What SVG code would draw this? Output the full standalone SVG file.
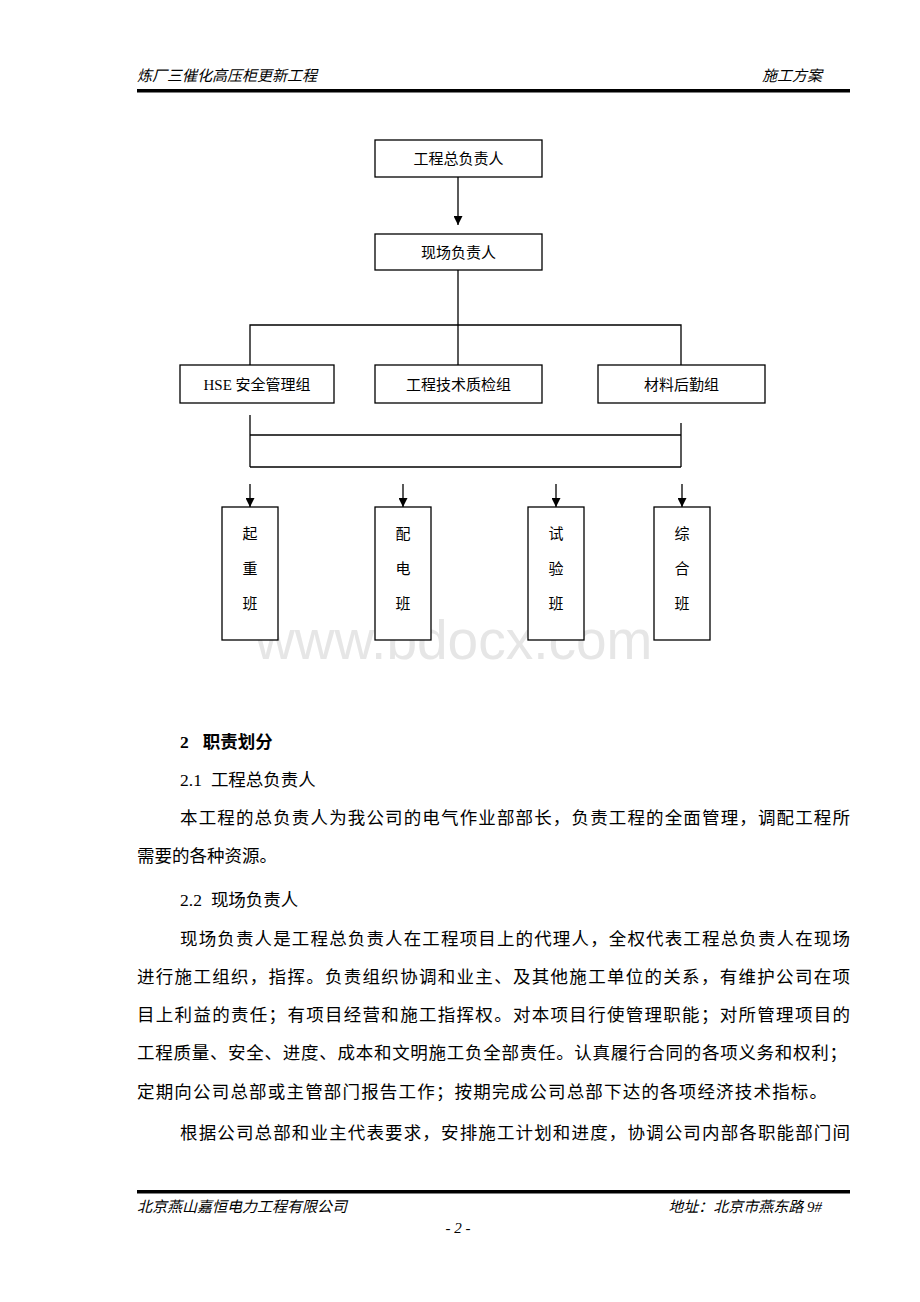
<svg xmlns="http://www.w3.org/2000/svg" width="920" height="1302" viewBox="0 0 920 1302">
<style>
.t{font-family:"Liberation Serif","Noto Sans CJK SC",serif;fill:#000}
.hd{font-size:15px;font-style:italic}
.lb{font-size:15px;text-anchor:middle}
.bd{font-size:17.5px}
.box{fill:#fff;stroke:#000;stroke-width:1.3}
.ln{fill:none;stroke:#000;stroke-width:1.3}
.wm{font-family:"Liberation Sans",Arial,sans-serif;font-size:55px;fill:#e6e6e6}
</style>
<defs>
<marker id="ah" viewBox="0 0 10 10" refX="10" refY="5" markerWidth="9" markerHeight="9" markerUnits="userSpaceOnUse" orient="auto">
<path d="M0,0 L10,5 L0,10 z" fill="#000"/>
</marker>
</defs>
<rect width="920" height="1302" fill="#fff"/>
<text class="wm" x="255" y="659">www.bdocx.com</text>
<g id="header">
<text class="t hd" x="137" y="81">炼厂三催化高压柜更新工程</text>
<text class="t hd" x="822" y="81" text-anchor="end">施工方案</text>
<rect x="137" y="89" width="713" height="3.5" fill="#000"/>
</g>
<g id="connectors">
<line class="ln" x1="458" y1="177" x2="458" y2="225" marker-end="url(#ah)"/>
<line class="ln" x1="458" y1="270" x2="458" y2="365"/>
<polyline class="ln" points="250,365 250,325 681,325 681,365"/>
<line class="ln" x1="250" y1="415" x2="250" y2="467"/>
<line class="ln" x1="681" y1="423" x2="681" y2="467"/>
<line class="ln" x1="250" y1="435" x2="681" y2="435"/>
<line class="ln" x1="250" y1="467" x2="681" y2="467"/>
<line class="ln" x1="250" y1="484" x2="250" y2="507" marker-end="url(#ah)"/>
<line class="ln" x1="403" y1="484" x2="403" y2="507" marker-end="url(#ah)"/>
<line class="ln" x1="556" y1="484" x2="556" y2="507" marker-end="url(#ah)"/>
<line class="ln" x1="682" y1="484" x2="682" y2="507" marker-end="url(#ah)"/>
</g>
<g id="n1"><rect class="box" x="375" y="140" width="167" height="37"/><text class="t lb" x="458.5" y="164">工程总负责人</text></g>
<g id="n2"><rect class="box" x="375" y="234" width="167" height="36"/><text class="t lb" x="458.5" y="258">现场负责人</text></g>
<g id="n3"><rect class="box" x="180" y="365" width="154" height="38"/><text class="t lb" x="257" y="390">HSE 安全管理组</text></g>
<g id="n4"><rect class="box" x="375" y="365" width="167" height="38"/><text class="t lb" x="458.5" y="390">工程技术质检组</text></g>
<g id="n5"><rect class="box" x="598" y="365" width="167" height="38"/><text class="t lb" x="681.5" y="390">材料后勤组</text></g>
<g id="n6"><rect class="box" x="222" y="507" width="56" height="133"/><text class="t lb" x="250" y="539">起</text><text class="t lb" x="250" y="574">重</text><text class="t lb" x="250" y="609">班</text></g>
<g id="n7"><rect class="box" x="375" y="507" width="56" height="133"/><text class="t lb" x="403" y="539">配</text><text class="t lb" x="403" y="574">电</text><text class="t lb" x="403" y="609">班</text></g>
<g id="n8"><rect class="box" x="528" y="507" width="56" height="133"/><text class="t lb" x="556" y="539">试</text><text class="t lb" x="556" y="574">验</text><text class="t lb" x="556" y="609">班</text></g>
<g id="n9"><rect class="box" x="654" y="507" width="56" height="133"/><text class="t lb" x="682" y="539">综</text><text class="t lb" x="682" y="574">合</text><text class="t lb" x="682" y="609">班</text></g>
<g id="body">
<text class="t bd" x="180" y="748" font-weight="bold">2<tspan dx="14">职责划分</tspan></text>
<text class="t bd" x="180" y="786">2.1<tspan dx="9">工程总负责人</tspan></text>
<text class="t bd" x="180" y="824" textLength="670" lengthAdjust="spacing">本工程的总负责人为我公司的电气作业部部长，负责工程的全面管理，调配工程所</text>
<text class="t bd" x="137" y="862">需要的各种资源。</text>
<text class="t bd" x="180" y="906">2.2<tspan dx="9">现场负责人</tspan></text>
<text class="t bd" x="180" y="945" textLength="670" lengthAdjust="spacing">现场负责人是工程总负责人在工程项目上的代理人，全权代表工程总负责人在现场</text>
<text class="t bd" x="137" y="983" textLength="713" lengthAdjust="spacing">进行施工组织，指挥。负责组织协调和业主、及其他施工单位的关系，有维护公司在项</text>
<text class="t bd" x="137" y="1021" textLength="713" lengthAdjust="spacing">目上利益的责任；有项目经营和施工指挥权。对本项目行使管理职能；对所管理项目的</text>
<text class="t bd" x="137" y="1059" textLength="710" lengthAdjust="spacing">工程质量、安全、进度、成本和文明施工负全部责任。认真履行合同的各项义务和权利；</text>
<text class="t bd" x="137" y="1098" textLength="690" lengthAdjust="spacing">定期向公司总部或主管部门报告工作；按期完成公司总部下达的各项经济技术指标。</text>
<text class="t bd" x="180" y="1139" textLength="670" lengthAdjust="spacing">根据公司总部和业主代表要求，安排施工计划和进度，协调公司内部各职能部门间</text>
</g>
<g id="footer">
<rect x="137" y="1190" width="713" height="3.5" fill="#000"/>
<text class="t hd" x="137" y="1212">北京燕山嘉恒电力工程有限公司</text>
<text class="t hd" x="822" y="1212" text-anchor="end">地址：北京市燕东路 9#</text>
<text class="t hd" x="458" y="1233" text-anchor="middle">- 2 -</text>
</g>
</svg>
